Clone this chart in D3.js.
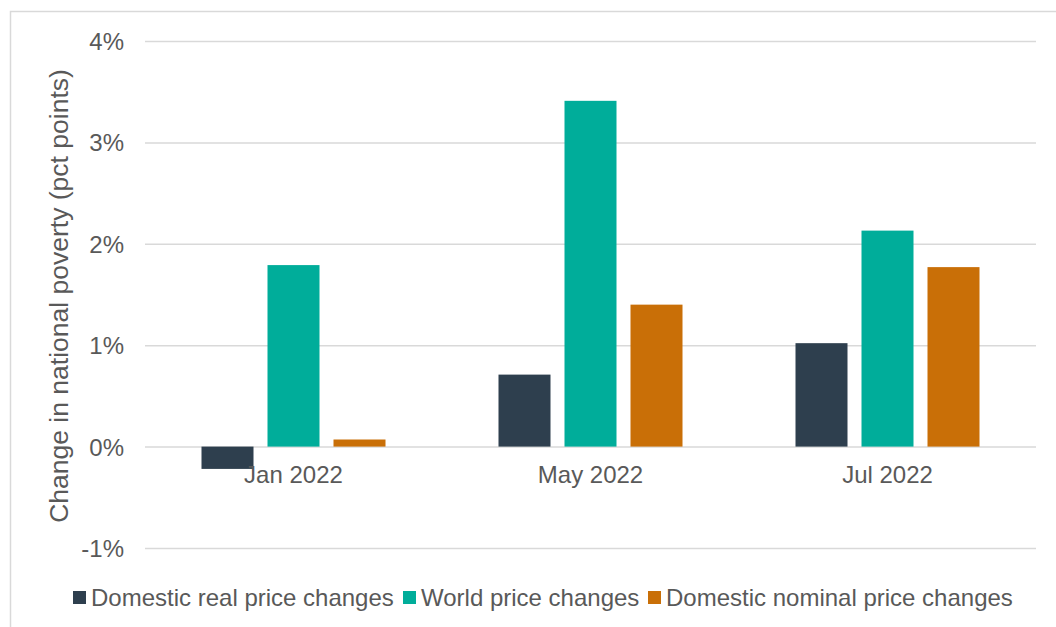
<!DOCTYPE html>
<html>
<head>
<meta charset="utf-8">
<script src="https://cdn.jsdelivr.net/npm/d3@7"></script>
<style>
  body { margin: 0; background: #fff; }
  svg { display: block; font-family: "Liberation Sans", Arial, sans-serif; }
</style>
</head>
<body>
<svg id="chart"></svg>
<script>
const categories = ["Jan 2022", "May 2022", "Jul 2022"];
const seriesNames = ["Domestic real price changes", "World price changes", "Domestic nominal price changes"];
const domesticReal = [-0.22, 0.71, 1.02];
const worldPrice = [1.79, 3.41, 2.13];
const domesticNominal = [0.07, 1.40, 1.77];
const yTicks = [-1, 0, 1, 2, 3, 4];
const colors = ["#2e3f4e", "#00ad9a", "#c96f07"];

const W = 1056, H = 627;
const svg = d3.select("#chart").attr("width", W).attr("height", H);

// outer frame
svg.append("rect")
    .attr("x", 10.5).attr("y", 11.5)
    .attr("width", 1100).attr("height", 700)
    .attr("fill", "none")
    .attr("stroke", "#d9d9d9")
    .attr("stroke-width", 1.5);

const left = 145, right = 1036;
const y = d3.scaleLinear().domain([-1, 4]).range([548, 41]);
const x0 = d3.scaleBand().domain(categories).range([left, right]);
const groupW = 184;
const x1 = d3.scaleBand().domain(seriesNames)
    .range([-groupW / 2, groupW / 2])
    .paddingInner(0.2121);

// gridlines
const yAxis = d3.axisLeft(y).tickValues(yTicks)
    .tickSize(-(right - left))
    .tickPadding(21)
    .tickFormat(d => d + "%");
const gy = svg.append("g")
    .attr("transform", `translate(${left},0)`)
    .call(yAxis);
gy.select(".domain").remove();
gy.selectAll(".tick line").attr("stroke", "#d9d9d9").attr("stroke-width", 1.5);
gy.selectAll(".tick text")
    .attr("fill", "#595959")
    .style("font-size", "24px")
    .attr("dy", "0.35em");

// bars
const rows = seriesNames.map((s, i) => ({
    name: s,
    color: colors[i],
    values: [domesticReal, worldPrice, domesticNominal][i]
}));

rows.forEach(r => {
    svg.append("g").selectAll("rect")
        .data(categories.map((c, j) => ({ cat: c, v: r.values[j] })))
        .join("rect")
        .attr("x", d => x0(d.cat) + x0.bandwidth() / 2 + x1(r.name))
        .attr("width", x1.bandwidth())
        .attr("y", d => Math.min(y(d.v), y(0)))
        .attr("height", d => Math.abs(y(d.v) - y(0)))
        .attr("fill", r.color);
});

// category labels
svg.append("g").selectAll("text")
    .data(categories)
    .join("text")
    .attr("x", d => x0(d) + x0.bandwidth() / 2)
    .attr("y", 483)
    .attr("text-anchor", "middle")
    .attr("fill", "#595959")
    .style("font-size", "24px")
    .text(d => d);

// y axis title
svg.append("text")
    .attr("transform", "translate(68,296) rotate(-90)")
    .attr("text-anchor", "middle")
    .attr("fill", "#595959")
    .style("font-size", "26.5px")
    .text("Change in national poverty (pct points)");

// legend
const legendX = [73, 403, 648];
const lg = svg.append("g").selectAll("g")
    .data(rows)
    .join("g")
    .attr("transform", (d, i) => `translate(${legendX[i]},598)`);
lg.append("rect")
    .attr("x", 0).attr("y", -7)
    .attr("width", 13).attr("height", 13)
    .attr("fill", d => d.color);
lg.append("text")
    .attr("x", 18).attr("y", 0)
    .attr("dy", "0.35em")
    .attr("fill", "#595959")
    .style("font-size", "24px")
    .text(d => d.name);
</script>
</body>
</html>
